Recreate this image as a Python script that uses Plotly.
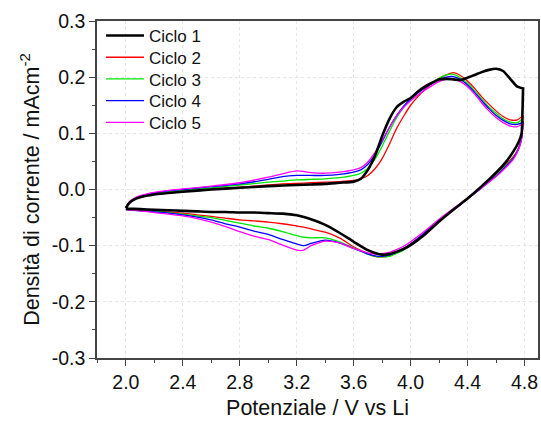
import plotly.graph_objects as go

# ---------------- data ----------------
# anodic sweep voltages (V vs Li)
v_up = [2.0, 2.02, 2.05, 2.1, 2.2, 2.4, 2.6, 2.8, 3.0, 3.1, 3.2, 3.3, 3.4, 3.5, 3.6,
        3.65, 3.7, 3.75, 3.8, 3.85, 3.9, 3.95, 4.0, 4.05, 4.1, 4.15, 4.2, 4.25, 4.3,
        4.35, 4.4, 4.45, 4.5, 4.55, 4.6, 4.65, 4.7, 4.75, 4.79]
# cathodic sweep voltages
v_down = [4.79, 4.785, 4.78, 4.76, 4.72, 4.66, 4.6, 4.5, 4.4, 4.3, 4.2, 4.1, 4.0, 3.95,
          3.9, 3.85, 3.8, 3.75, 3.7, 3.6, 3.5, 3.4, 3.3, 3.25, 3.2, 3.1, 3.0, 2.9, 2.8,
          2.7, 2.6, 2.5, 2.4, 2.3, 2.2, 2.1, 2.0]

c1_up = [-0.033, -0.025, -0.019, -0.014, -0.009, -0.004, 0.000, 0.003, 0.006, 0.007,
         0.008, 0.009, 0.010, 0.012, 0.014, 0.019, 0.035, 0.060, 0.095, 0.125, 0.146,
         0.156, 0.163, 0.174, 0.183, 0.190, 0.196, 0.197, 0.196, 0.195, 0.199, 0.204,
         0.209, 0.213, 0.215, 0.211, 0.197, 0.183, 0.180]
c1_down = [0.180, 0.130, 0.100, 0.085, 0.067, 0.046, 0.030, 0.006, -0.016, -0.036,
           -0.057, -0.080, -0.099, -0.106, -0.111, -0.115, -0.116, -0.113, -0.108,
           -0.093, -0.077, -0.063, -0.053, -0.049, -0.046, -0.043, -0.042, -0.041,
           -0.041, -0.040, -0.040, -0.039, -0.038, -0.037, -0.036, -0.035, -0.034]

c2_up = [-0.033, -0.024, -0.018, -0.013, -0.008, -0.003, 0.001, 0.004, 0.008, 0.010,
         0.011, 0.012, 0.013, 0.014, 0.016, 0.019, 0.025, 0.037, 0.055, 0.080, 0.108,
         0.130, 0.150, 0.165, 0.178, 0.189, 0.198, 0.204, 0.208, 0.203, 0.193, 0.180,
         0.165, 0.152, 0.140, 0.130, 0.124, 0.124, 0.132]
c2_down = [0.132, 0.110, 0.095, 0.075, 0.058, 0.042, 0.028, 0.006, -0.015, -0.035,
           -0.055, -0.077, -0.097, -0.106, -0.113, -0.118, -0.120, -0.119, -0.114,
           -0.102, -0.086, -0.076, -0.070, -0.067, -0.065, -0.061, -0.058, -0.056,
           -0.054, -0.051, -0.048, -0.045, -0.042, -0.040, -0.038, -0.037, -0.036]

c3_up = [-0.033, -0.024, -0.018, -0.013, -0.007, -0.001, 0.003, 0.008, 0.013, 0.015,
         0.017, 0.018, 0.019, 0.021, 0.025, 0.029, 0.038, 0.054, 0.077, 0.103, 0.127,
         0.146, 0.160, 0.172, 0.182, 0.191, 0.198, 0.204, 0.205, 0.199, 0.189, 0.176,
         0.161, 0.147, 0.136, 0.126, 0.120, 0.119, 0.127]
c3_down = [0.127, 0.106, 0.093, 0.074, 0.056, 0.040, 0.025, 0.004, -0.016, -0.036,
           -0.056, -0.078, -0.099, -0.108, -0.114, -0.119, -0.120, -0.119, -0.115,
           -0.104, -0.093, -0.086, -0.086, -0.085, -0.082, -0.075, -0.069, -0.065,
           -0.060, -0.055, -0.050, -0.047, -0.044, -0.041, -0.039, -0.037, -0.036]

c4_up = [-0.033, -0.024, -0.018, -0.012, -0.006, 0.000, 0.005, 0.010, 0.018, 0.023,
         0.025, 0.025, 0.025, 0.027, 0.031, 0.035, 0.045, 0.062, 0.085, 0.110, 0.131,
         0.148, 0.161, 0.172, 0.181, 0.189, 0.196, 0.200, 0.201, 0.196, 0.186, 0.173,
         0.158, 0.144, 0.132, 0.123, 0.117, 0.116, 0.120]
c4_down = [0.120, 0.104, 0.091, 0.073, 0.055, 0.039, 0.024, 0.003, -0.017, -0.036,
           -0.056, -0.077, -0.097, -0.105, -0.112, -0.117, -0.119, -0.118, -0.115,
           -0.105, -0.095, -0.090, -0.096, -0.100, -0.097, -0.089, -0.080, -0.074,
           -0.067, -0.061, -0.054, -0.049, -0.045, -0.042, -0.040, -0.038, -0.036]

c5_up = [-0.033, -0.023, -0.017, -0.011, -0.005, 0.001, 0.006, 0.012, 0.022, 0.028,
         0.033, 0.030, 0.029, 0.031, 0.035, 0.039, 0.049, 0.066, 0.088, 0.110, 0.130,
         0.146, 0.158, 0.168, 0.177, 0.185, 0.192, 0.196, 0.196, 0.192, 0.183, 0.170,
         0.154, 0.140, 0.128, 0.119, 0.113, 0.112, 0.117]
c5_down = [0.117, 0.102, 0.090, 0.072, 0.053, 0.037, 0.023, 0.003, -0.016, -0.034,
           -0.053, -0.074, -0.093, -0.101, -0.107, -0.112, -0.114, -0.115, -0.113,
           -0.105, -0.095, -0.092, -0.100, -0.108, -0.108, -0.099, -0.089, -0.083,
           -0.075, -0.066, -0.058, -0.052, -0.047, -0.044, -0.041, -0.038, -0.036]

series_names = ["Ciclo 1", "Ciclo 2", "Ciclo 3", "Ciclo 4", "Ciclo 5"]
series_up = [c1_up, c2_up, c3_up, c4_up, c5_up]
series_down = [c1_down, c2_down, c3_down, c4_down, c5_down]
series_colors = ["#000000", "#FF0000", "#00E600", "#0000FF", "#FF00FF"]
series_widths = [2.6, 1.3, 1.3, 1.3, 1.3]

x_tickvals = [2.0, 2.4, 2.8, 3.2, 3.6, 4.0, 4.4, 4.8]
x_ticktext = ["2.0", "2.4", "2.8", "3.2", "3.6", "4.0", "4.4", "4.8"]
y_tickvals = [-0.3, -0.2, -0.1, 0.0, 0.1, 0.2, 0.3]
y_ticktext = ["-0.3", "-0.2", "-0.1", "0.0", "0.1", "0.2", "0.3"]

# ---------------- figure ----------------
W, H = 541, 421
M_L, M_R, M_T, M_B = 97, 1, 21, 63
plot_h = H - M_T - M_B

fig = go.Figure()
legend_ids = ["legend", "legend2", "legend3", "legend4", "legend5"]
order = [1, 2, 3, 4, 0]  # draw black last (on top)
for i in order:
    fig.add_trace(go.Scatter(
        x=v_up + v_down,
        y=series_up[i] + series_down[i],
        mode="lines",
        name=series_names[i],
        legend=legend_ids[i],
        line=dict(color=series_colors[i], width=series_widths[i],
                  shape="spline", smoothing=0.6),
    ))

font_family = "Arial, 'Liberation Sans', sans-serif"
axis_col = "#444444"
grid_col = "#e6e6e6"

# one legend box per entry so the row spacing matches the original
row_first_px = 36.0   # pixel centre of first legend row
row_step_px = 21.7    # pixel spacing between rows
legend_layout = {}
for k, lid in enumerate(legend_ids):
    cy = row_first_px + k * row_step_px
    legend_layout[lid] = dict(
        x=4.0 / (W - M_L - M_R), y=1 - (cy - M_T) / plot_h,
        xanchor="left", yanchor="middle",
        bgcolor="rgba(0,0,0,0)", borderwidth=0,
        font=dict(size=17, family=font_family, color="#111111"),
        tracegroupgap=0, itemwidth=38,
    )

fig.update_layout(
    width=W, height=H,
    margin=dict(l=M_L, r=M_R, t=M_T, b=M_B),
    paper_bgcolor="white", plot_bgcolor="white",
    font=dict(family=font_family, color="#111111"),
    showlegend=True,
    **legend_layout,
)

fig.update_xaxes(
    range=[1.797, 4.895],
    tickmode="array", tickvals=x_tickvals, ticktext=x_ticktext,
    ticks="outside", ticklen=6, tickwidth=1.3, tickcolor=axis_col,
    minor=dict(dtick=0.2, tick0=2.0, ticks="outside", ticklen=3.5,
               tickcolor=axis_col, tickwidth=1.2, showgrid=False),
    showline=True, linecolor=axis_col, linewidth=1.6, mirror=True,
    showgrid=True, gridcolor=grid_col, griddash="dot", gridwidth=1,
    zeroline=False,
    tickfont=dict(size=19.5, family=font_family, color="#111111"),
    title=dict(text="Potenziale / V vs Li",
               font=dict(size=21.5, family=font_family, color="#111111"),
               standoff=8),
)
fig.update_yaxes(
    range=[-0.3, 0.3],
    tickmode="array", tickvals=y_tickvals, ticktext=y_ticktext,
    ticks="outside", ticklen=6, tickwidth=1.3, tickcolor=axis_col,
    minor=dict(dtick=0.05, tick0=0.0, ticks="outside", ticklen=3.5,
               tickcolor=axis_col, tickwidth=1.2, showgrid=False),
    showline=True, linecolor=axis_col, linewidth=1.6, mirror=True,
    showgrid=True, gridcolor=grid_col, griddash="dot", gridwidth=1,
    zeroline=False,
    tickfont=dict(size=19.5, family=font_family, color="#111111"),
    title=dict(text="Densità di corrente / mAcm<sup>-2</sup>",
               font=dict(size=21.5, family=font_family, color="#111111"),
               standoff=6),
)

fig.write_html("out.html")
